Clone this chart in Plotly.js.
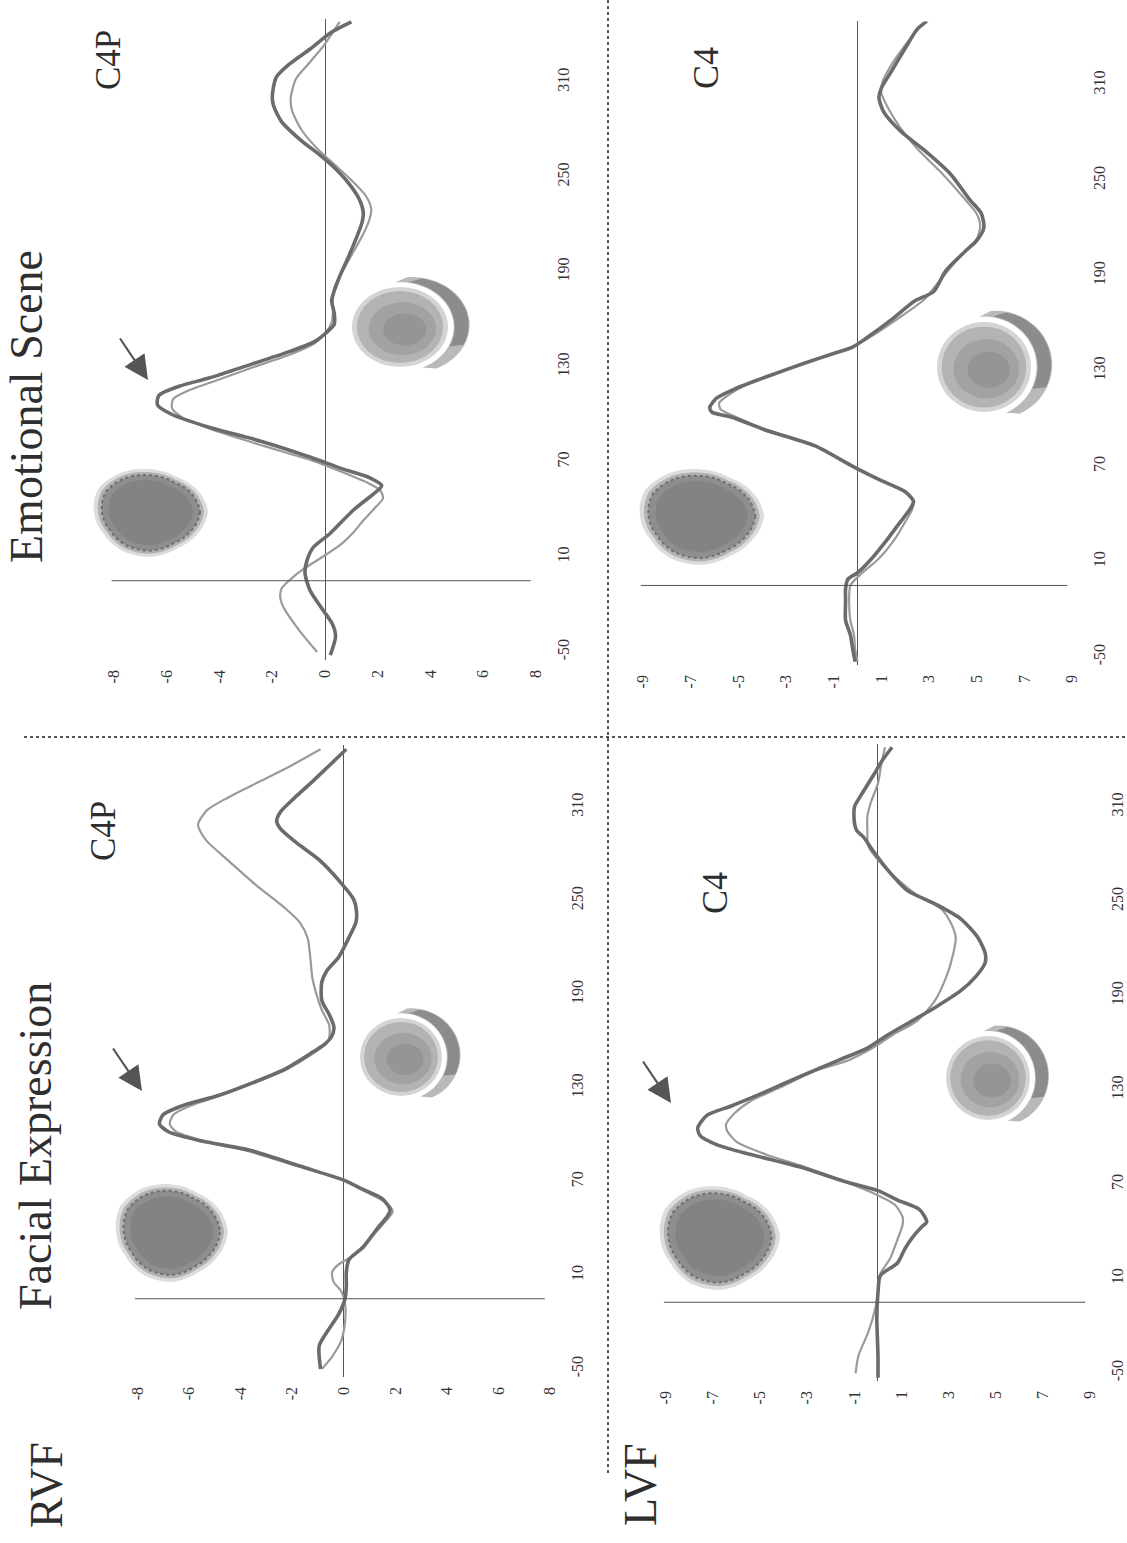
<!DOCTYPE html>
<html>
<head>
<meta charset="utf-8">
<script src="https://cdn.plot.ly/plotly-3.0.1.min.js"></script>
<style>
  html, body { margin: 0; padding: 0; background: #ffffff; }
  #chart { width: 1127px; height: 1543px; }
</style>
</head>
<body>
<div id="chart"></div>
<script>
// ---------------- DATA (time in ms, amplitude in microvolts) ----------------
const ampTicks8 = [-8, -6, -4, -2, 0, 2, 4, 6, 8];
const ampTicks9 = [-9, -7, -5, -3, -1, 1, 3, 5, 7, 9];
const timeTicks = [-50, 10, 70, 130, 190, 250, 310];

const columnTitles = ["Facial Expression", "Emotional Scene"];
const rowLabels = ["RVF", "LVF"];
const electrodeLabels = ["C4P", "C4", "C4P", "C4"];

// Emotional Scene, RVF, C4P
const esRvfThickT = [-52,-40,-32,-23,-11,0,8,16,25,40,50,55,60,66,73,83,92,100,106,112,118,123,132,140,146,151,157,164,172,178,187,200,212,221,228,236,246,256,264,273,285,295,301,313,322,331,341,348];
const esRvfThickV = [0.2,0.4,0.27,-0.1,-0.57,-0.76,-0.68,-0.45,0.2,1.1,1.85,2.15,1.7,0.6,-0.55,-2.4,-4.4,-5.8,-6.35,-6.3,-5.5,-4.4,-2.75,-1.3,-0.4,0,0.35,0.35,0.25,0.35,0.55,0.9,1.2,1.4,1.45,1.3,0.9,0.35,-0.2,-0.9,-1.65,-1.95,-2.0,-1.85,-1.3,-0.55,0.2,1.0];
const esRvfThinT = [-50,-37,-21,-15,-10,-4,2,10,18,26,34,42,47,52,57,64,71,80,90,98,104,110,115,121,130,138,145,151,158,165,173,180,190,202,214,224,230,238,248,258,268,280,292,300,312,322,333,344,348];
const esRvfThinV = [-0.3,-0.95,-1.6,-1.7,-1.65,-1.3,-0.85,-0.1,0.6,1.1,1.5,1.95,2.2,2.1,1.6,0.6,-0.5,-2.3,-4.2,-5.4,-5.8,-5.75,-5.2,-4.2,-2.7,-1.3,-0.4,0,0.25,0.3,0.3,0.35,0.65,1.05,1.45,1.7,1.75,1.55,1.0,0.35,-0.3,-0.9,-1.25,-1.3,-1.1,-0.6,-0.05,0.4,0.55];

// Emotional Scene, LVF, C4
const esLvfThickT = [-53,-45,-36,-27,-15,-7,-1,3,12,25,35,43,48,54,61,70,83,93,101,104,107,113,119,127,135,141,145,151,162,174,180,193,205,212,220,229,238,254,269,281,293,302,308,318,333,345,350];
const esLvfThickV = [-0.1,-0.2,-0.3,-0.5,-0.5,-0.5,-0.4,0,0.6,1.3,1.8,2.2,2.35,2.0,1.0,-0.2,-1.8,-3.9,-5.3,-6.1,-6.2,-5.9,-5.1,-3.7,-2.2,-1.0,-0.2,0.4,1.4,2.4,3.2,3.7,4.5,5.0,5.3,5.2,4.7,3.9,2.8,1.8,1.1,0.9,1.0,1.4,2.0,2.5,2.9];
const esLvfThinT = [-53,-45,-36,-27,-15,-5,3,12,25,35,43,48,54,61,70,83,93,101,106,110,115,121,128,135,141,146,152,163,175,184,195,205,213,221,229,240,255,270,283,295,305,312,322,335,346,351];
const esLvfThinV = [0.0,-0.1,-0.15,-0.3,-0.35,-0.3,0.2,0.9,1.6,2.0,2.3,2.35,2.0,1.0,-0.2,-1.8,-3.8,-5.1,-5.75,-5.8,-5.4,-4.7,-3.5,-2.2,-1.0,-0.1,0.6,1.7,2.8,3.3,3.9,4.5,5.0,5.15,5.0,4.4,3.5,2.5,1.8,1.3,1.0,1.05,1.4,2.0,2.6,3.0];

// Facial Expression, RVF, C4P
const feRvfThickT = [-50,-35,-25,-15,-5,3,12,20,28,40,48,52,59,65,71,80,90,96,102,107,113,119,125,133,142,152,158,163,169,177,186,198,205,214,226,236,242,251,263,276,288,296,301,307,316,325,336,347];
const feRvfThickV = [-0.9,-0.95,-0.6,-0.2,0.05,0.1,0.1,0.2,0.75,1.3,1.7,1.8,1.5,0.75,0,-1.7,-3.6,-5.5,-6.8,-7.15,-7.0,-6.2,-4.9,-3.6,-2.3,-1.3,-0.75,-0.47,-0.38,-0.56,-0.85,-0.85,-0.66,-0.19,0.19,0.47,0.5,0.38,-0.19,-0.94,-1.9,-2.45,-2.6,-2.45,-1.9,-1.3,-0.6,0.1];
const feRvfThinT = [-50,-42,-32,-20,-8,0,6,12,17,23,35,46,51,57,64,71,80,90,96,102,107,113,119,125,133,142,152,160,170,180,189,201,214,226,236,245,260,276,288,294,299,308,316,326,336,347];
const feRvfThinV = [-0.85,-0.45,-0.1,0.05,0.05,-0.1,-0.4,-0.45,-0.2,0.4,1.1,1.7,1.9,1.6,0.8,0,-1.8,-3.8,-5.4,-6.5,-6.75,-6.6,-5.9,-4.8,-3.5,-2.2,-1.2,-0.6,-0.56,-0.85,-1.04,-1.22,-1.3,-1.4,-1.7,-2.26,-3.4,-4.5,-5.3,-5.55,-5.65,-5.3,-4.5,-3.3,-2.1,-0.9];

// Facial Expression, LVF, C4
const feLvfThickT = [-53,-39,-14,1,12,20,29,36,43,46,54,60,66,72,81,89,95,101,106,114,120,129,140,149,157,165,174,183,193,202,211,217,227,239,248,257,270,282,291,295,300,310,318,330,340,348];
const feLvfThickV = [0,0,-0.05,0,0.1,0.83,1.14,1.45,1.86,2.07,1.76,0.83,0,-1.45,-3.3,-5.4,-6.8,-7.55,-7.65,-7.25,-6.2,-4.76,-3.1,-1.66,-0.41,0.41,1.45,2.48,3.5,4.14,4.55,4.55,4.24,3.5,2.48,1.24,0.41,-0.2,-0.62,-0.9,-1.0,-1.0,-0.7,-0.2,0.2,0.6];
const feLvfThinT = [-50,-39,-24,-8,1,13,23,35,44,49,57,63,72,81,89,97,104,108,115,123,132,142,149,157,165,174,186,202,217,227,236,245,254,264,273,285,295,304,313,325,338,348];
const feLvfThinV = [-0.95,-0.83,-0.41,-0.1,0,0.1,0.52,0.83,1.04,1.05,0.72,0,-1.45,-3.1,-4.76,-6.0,-6.4,-6.45,-6.1,-5.4,-4.1,-2.7,-1.24,-0.2,0.62,1.66,2.38,2.9,3.2,3.3,3.1,2.7,1.66,0.83,0.2,-0.41,-0.45,-0.45,-0.3,0,0.15,0.3];

const stimulusOnsetLine = -5; // ms, where the vertical (time) axis crosses

// ---------------- LAYOUT HELPERS ----------------
const W = 1127, H = 1543;
const px = x => x / W;
const py = y => 1 - y / H;

const FONT = "Liberation Serif, Times New Roman, serif";
const THICK = { color: "#6b6b6b", width: 3.6, shape: "spline", smoothing: 0.7 };
const THIN  = { color: "#9a9a9a", width: 2.2, shape: "spline", smoothing: 0.7 };

const panels = [
  { id: "", xb: [111.4, 536], yb: [18.7, 659.9], xr: [-8.1, 8], ticks: ampTicks8,
    thick: [esRvfThickT, esRvfThickV], thin: [esRvfThinT, esRvfThinV] },
  { id: "2", xb: [640.6, 1072], yb: [21.4, 664.9], xr: [-9.1, 9], ticks: ampTicks9,
    thick: [esLvfThickT, esLvfThickV], thin: [esLvfThinT, esLvfThinV] },
  { id: "3", xb: [134.9, 550], yb: [744.6, 1376.8], xr: [-8.1, 8], ticks: ampTicks8,
    thick: [feRvfThickT, feRvfThickV], thin: [feRvfThinT, feRvfThinV] },
  { id: "4", xb: [663.6, 1090], yb: [744.1, 1380.9], xr: [-9.1, 9], ticks: ampTicks9,
    thick: [feLvfThickT, feLvfThickV], thin: [feLvfThinT, feLvfThinV] }
];

const traces = [];
const layout = {
  width: W, height: H,
  margin: { l: 0, r: 0, t: 0, b: 0 },
  paper_bgcolor: "#ffffff",
  plot_bgcolor: "rgba(0,0,0,0)",
  showlegend: false,
  font: { family: FONT, color: "#333333", size: 16 },
  shapes: [],
  annotations: []
};

panels.forEach(p => {
  const xa = "x" + p.id, ya = "y" + p.id;
  traces.push({ type: "scatter", mode: "lines", x: p.thin[1], y: p.thin[0],
    xaxis: xa, yaxis: ya, line: THIN, hoverinfo: "skip" });
  traces.push({ type: "scatter", mode: "lines", x: p.thick[1], y: p.thick[0],
    xaxis: xa, yaxis: ya, line: THICK, hoverinfo: "skip" });

  layout["xaxis" + p.id] = {
    domain: [px(p.xb[0]), px(p.xb[1])], range: p.xr, anchor: ya,
    tickvals: p.ticks, ticktext: p.ticks.map(String), tickangle: -90,
    showgrid: false, showline: false, ticks: "",
    zeroline: true, zerolinecolor: "#555555", zerolinewidth: 1,
    ticklabelstandoff: 6,
    tickfont: { family: FONT, size: 16, color: "#333333" }, fixedrange: true
  };
  layout["yaxis" + p.id] = {
    domain: [py(p.yb[1]), py(p.yb[0])], range: [-55, 350], anchor: xa, side: "right",
    tickvals: timeTicks, ticktext: timeTicks.map(String), tickangle: -90,
    showgrid: false, showline: false, ticks: "", zeroline: false,
    ticklabelstandoff: 16,
    tickfont: { family: FONT, size: 16, color: "#333333" }, fixedrange: true
  };
  layout.shapes.push({ type: "line", xref: xa, yref: ya,
    x0: p.xr[0], x1: p.xr[1] - 0.2, y0: stimulusOnsetLine, y1: stimulusOnsetLine,
    line: { color: "#555555", width: 1 } });
});

// ---------------- topographic maps (decoration) ----------------
const blobMult = [1.0, 0.95, 0.93, 1.0, 1.0, 0.96, 1.0, 1.06, 1.02, 0.95, 0.9, 0.95];
function blobPath(cx, cy, rx, ry, s) {
  let d = "";
  for (let i = 0; i <= 72; i++) {
    const a = (i % 72) * 5;
    const k = a / 30, i0 = Math.floor(k) % 12, i1 = (i0 + 1) % 12, f = k - Math.floor(k);
    const m = blobMult[i0] * (1 - f) + blobMult[i1] * f;
    const r = a * Math.PI / 180;
    const X = cx + rx * s * m * Math.cos(r), Y = cy + ry * s * m * Math.sin(r);
    d += (i === 0 ? "M" : "L") + px(X).toFixed(5) + "," + py(Y).toFixed(5);
  }
  return d + "Z";
}
function ellipse(cx, cy, rx, ry, fill) {
  return { type: "circle", xref: "paper", yref: "paper", layer: "below",
    x0: px(cx - rx), x1: px(cx + rx), y0: py(cy + ry), y1: py(cy - ry),
    fillcolor: fill, line: { width: 0, color: fill } };
}
function crescentPath(cx, cy, rx, ry, a0, a1, outK, inK) {
  const ocx = cx + 0.25 * rx, ocy = cy - 0.05 * ry, orx = outK * rx, ory = outK * ry;
  const irx = inK * rx, iry = inK * ry;
  let d = "";
  for (let a = a0, i = 0; a <= a1; a += 5, i++) {
    const r = a * Math.PI / 180;
    d += (i === 0 ? "M" : "L") + px(ocx + orx * Math.cos(r)).toFixed(5) + "," + py(ocy + ory * Math.sin(r)).toFixed(5);
  }
  for (let a = a1; a >= a0; a -= 5) {
    const r = a * Math.PI / 180;
    d += "L" + px(cx + irx * Math.cos(r)).toFixed(5) + "," + py(cy + iry * Math.sin(r)).toFixed(5);
  }
  return d + "Z";
}
function addMaps(b1, b2) {
  layout.shapes.push({ type: "path", xref: "paper", yref: "paper", layer: "below",
    path: blobPath(b1[0], b1[1], b1[2], b1[3], 1.0), fillcolor: "#dcdcdc", line: { width: 0 } });
  layout.shapes.push({ type: "path", xref: "paper", yref: "paper", layer: "below",
    path: blobPath(b1[0], b1[1], b1[2], b1[3], 0.93), fillcolor: "#b2b2b2", line: { width: 0 } });
  layout.shapes.push({ type: "path", xref: "paper", yref: "paper", layer: "below",
    path: blobPath(b1[0], b1[1], b1[2], b1[3], 0.86), fillcolor: "#8e8e8e",
    line: { width: 2, color: "#6f6f6f", dash: "dot" } });
  layout.shapes.push({ type: "path", xref: "paper", yref: "paper", layer: "below",
    path: blobPath(b1[0], b1[1], b1[2], b1[3], 0.74), fillcolor: "#838383", line: { width: 0 } });
  // crescent (light outer, darker upper-right part)
  layout.shapes.push({ type: "path", xref: "paper", yref: "paper", layer: "below",
    path: crescentPath(b2[0], b2[1], b2[2], b2[3], -95, 65, 1.2, 1.12), fillcolor: "#b9b9b9", line: { width: 0 } });
  layout.shapes.push({ type: "path", xref: "paper", yref: "paper", layer: "below",
    path: crescentPath(b2[0], b2[1], b2[2], b2[3], -80, 25, 1.18, 1.14), fillcolor: "#8c8c8c", line: { width: 0 } });
  // oval map
  layout.shapes.push(ellipse(b2[0], b2[1], b2[2], b2[3], "#d4d4d4"));
  layout.shapes.push(ellipse(b2[0], b2[1], b2[2] * 0.9, b2[3] * 0.9, "#b3b3b3"));
  layout.shapes.push(ellipse(b2[0] + 0.05 * b2[2], b2[1] + 0.04 * b2[3], b2[2] * 0.7, b2[3] * 0.66, "#a2a2a2"));
  layout.shapes.push(ellipse(b2[0] + 0.1 * b2[2], b2[1] + 0.06 * b2[3], b2[2] * 0.45, b2[3] * 0.4, "#959595"));
}
addMaps([151, 512, 57, 45], [400, 327, 48, 40]);
addMaps([702, 516, 62, 49], [984, 367, 47, 45]);
addMaps([172, 1232, 56, 50], [401, 1057, 41, 39]);
addMaps([720, 1237, 60, 53], [988, 1078, 42, 42]);

// ---------------- dotted dividers ----------------
layout.shapes.push({ type: "line", xref: "paper", yref: "paper",
  x0: px(608), x1: px(608), y0: py(0), y1: py(1474), line: { color: "#555555", width: 2, dash: "dot" } });
layout.shapes.push({ type: "line", xref: "paper", yref: "paper",
  x0: px(24), x1: px(1127), y0: py(737), y1: py(737), line: { color: "#555555", width: 2, dash: "dot" } });

// ---------------- texts ----------------
function label(text, x, y, size) {
  layout.annotations.push({ text: text, xref: "paper", yref: "paper", x: px(x), y: py(y),
    xanchor: "center", yanchor: "middle", textangle: -90, showarrow: false,
    font: { family: FONT, size: size, color: "#2e2e2e" } });
}
label(columnTitles[1], 27, 407, 46);
label(columnTitles[0], 35, 1146, 46);
label(electrodeLabels[0], 108, 60, 35);
label(electrodeLabels[1], 706, 68, 36);
label(electrodeLabels[2], 103, 831, 35);
label(electrodeLabels[3], 715, 893, 36);
label(rowLabels[0], 46, 1485, 46);
label(rowLabels[1], 640, 1485, 46);

// ---------------- arrows ----------------
function arrow(hx, hy, tx, ty) {
  layout.annotations.push({ text: "", xref: "paper", yref: "paper", x: px(hx), y: py(hy),
    ax: tx - hx, ay: ty - hy, axref: "pixel", ayref: "pixel", showarrow: true,
    arrowhead: 2, arrowsize: 2.2, arrowwidth: 2.2, arrowcolor: "#555555" });
}
arrow(148, 380, 119, 337);
arrow(142, 1091, 112, 1047);
arrow(671, 1103, 642, 1060);

Plotly.newPlot("chart", traces, layout, { staticPlot: true, displayModeBar: false });
</script>
</body>
</html>
